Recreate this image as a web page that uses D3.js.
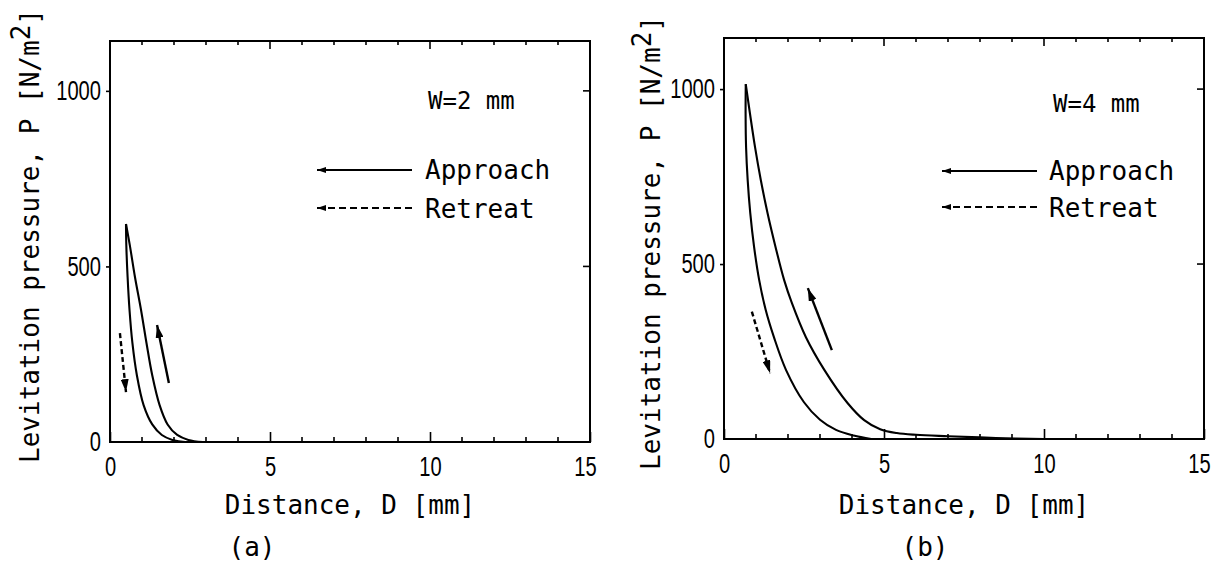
<!DOCTYPE html>
<html>
<head>
<meta charset="utf-8">
<script src="https://cdn.jsdelivr.net/npm/d3@7"></script>
<style>
  html, body { margin: 0; padding: 0; background: #fff; }
  svg { display: block; }
  .mono { font-family: "DejaVu Sans Mono", "Liberation Mono", monospace; fill: #000; }
  .tick text { font-family: "Liberation Sans", "DejaVu Sans", sans-serif; }
</style>
</head>
<body>
<svg id="chart" width="1219" height="565"></svg>
<script>
// ---------------- DATA ----------------
const xTicks = [0, 5, 10, 15];
const yTicks = [0, 500, 1000];
const xMinorTicks = [1,2,3,4,5,6,7,8,9,10,11,12,13,14];

// Panel (a): W = 2 mm
const approachD_W2 = [0.50, 0.62, 0.78, 0.97, 1.14, 1.32, 1.55, 1.80, 2.10, 2.45, 2.90];
const approachP_W2 = [621, 560, 470, 376, 282, 190, 105, 50, 20, 6, 0];
const retreatD_W2  = [0.50, 0.51, 0.55, 0.61, 0.70, 0.84, 1.05, 1.32, 1.62, 1.95, 2.35];
const retreatP_W2  = [621, 560, 470, 376, 282, 190, 105, 50, 20, 6, 0];

// Panel (b): W = 4 mm
const approachD_W4 = [0.68, 0.81, 0.97, 1.15, 1.36, 1.61, 1.88, 2.12, 2.56, 3.14, 3.86, 4.38, 4.88, 5.40, 6.00, 7.00, 8.50, 10.0];
const approachP_W4 = [1014, 931, 834, 740, 646, 549, 454, 389, 291, 197, 103, 54, 28, 17, 12, 8, 3, 0];
const retreatD_W4  = [0.68, 0.675, 0.69, 0.74, 0.82, 0.94, 1.10, 1.30, 1.56, 1.94, 2.50, 3.00, 3.50, 4.05, 4.60];
const retreatP_W4  = [1014, 931, 834, 740, 646, 549, 454, 370, 291, 197, 105, 55, 26, 10, 0];

// direction arrows [D0, P0, D1, P1]
const approachArrow_W2 = [1.84, 168, 1.47, 333];
const retreatArrow_W2  = [0.31, 310, 0.50, 142];
const approachArrow_W4 = [3.37, 254, 2.62, 431];
const retreatArrow_W4  = [0.87, 364, 1.44, 188];

const widthLabels = ["W=2 mm", "W=4 mm"];
const panelLabels = ["(a)", "(b)"];
const legendLabels = ["Approach", "Retreat"];
const xTitle = "Distance, D [mm]";

// ---------------- DRAW ----------------
const svg = d3.select("#chart");
const defs = svg.append("defs");
function marker(id, len, wid) {
  defs.append("marker").attr("id", id)
    .attr("viewBox", `0 0 ${len} ${wid}`)
    .attr("refX", len).attr("refY", wid / 2)
    .attr("markerWidth", len).attr("markerHeight", wid)
    .attr("markerUnits", "userSpaceOnUse")
    .attr("orient", "auto")
    .append("path").attr("d", `M0,0 L${len},${wid/2} L0,${wid} Z`).attr("fill", "#000");
}
marker("headBig", 13, 8);
marker("headSmall", 9, 6);

const panels = [
  { x0: 110, x1: 590, yb: 442, yt: 41, ymax: 1142,
    ad: approachD_W2, ap: approachP_W2, rd: retreatD_W2, rp: retreatP_W2,
    aArr: approachArrow_W2, rArr: retreatArrow_W2,
    wLabel: widthLabels[0], pLabel: panelLabels[0],
    legX: 317, legX2: 412, legTextX: 425, wX: 428, wY: 109, l1: 170, l2: 208,
    yTitleX: 39, yTitleY: 236, pLabelX: 252 },
  { x0: 724, x1: 1204, yb: 439, yt: 38, ymax: 1146,
    ad: approachD_W4, ap: approachP_W4, rd: retreatD_W4, rp: retreatP_W4,
    aArr: approachArrow_W4, rArr: retreatArrow_W4,
    wLabel: widthLabels[1], pLabel: panelLabels[1],
    legX: 942, legX2: 1037, legTextX: 1049, wX: 1053, wY: 112, l1: 171, l2: 207,
    yTitleX: 660, yTitleY: 243, pLabelX: 925 }
];

function styleTickText(sel) {
  sel.attr("font-size", 27).attr("fill", "#000")
    .attr("lengthAdjust", "spacingAndGlyphs")
    .attr("textLength", function() { return this.textContent.length * 11.2; });
}

panels.forEach(p => {
  const x = d3.scaleLinear().domain([0, 15]).range([p.x0, p.x1]);
  const y = d3.scaleLinear().domain([0, p.ymax]).range([p.yb, p.yt]);
  const g = svg.append("g");

  // frame
  g.append("rect").attr("x", p.x0).attr("y", p.yt)
    .attr("width", p.x1 - p.x0).attr("height", p.yb - p.yt)
    .attr("fill", "none").attr("stroke", "#000").attr("stroke-width", 2);

  // bottom axis (major labels)
  const bottom = g.append("g").attr("transform", `translate(0,${p.yb})`)
    .call(d3.axisBottom(x).tickValues(xTicks).tickSize(-10).tickPadding(15).tickFormat(d3.format("d")));
  bottom.select(".domain").remove();
  bottom.selectAll("line").attr("stroke", "#000").attr("stroke-width", 1.6);
  styleTickText(bottom.selectAll("text"));
  bottom.selectAll(".tick").filter(d => d === 15).select("text").attr("dx", -5);
  // minor bottom ticks
  g.selectAll(".mb").data(xMinorTicks.filter(v => v % 5 !== 0)).enter().append("line")
    .attr("x1", d => x(d)).attr("x2", d => x(d)).attr("y1", p.yb).attr("y2", p.yb - 5)
    .attr("stroke", "#000").attr("stroke-width", 1.6);
  // top ticks
  g.selectAll(".mt").data(xMinorTicks).enter().append("line")
    .attr("x1", d => x(d)).attr("x2", d => x(d)).attr("y1", p.yt).attr("y2", d => p.yt + (d % 5 === 0 ? 8 : 4))
    .attr("stroke", "#000").attr("stroke-width", 1.6);

  // left axis
  const left = g.append("g").attr("transform", `translate(${p.x0},0)`)
    .call(d3.axisLeft(y).tickValues(yTicks).tickSize(4).tickPadding(5).tickFormat(d3.format("d")));
  left.select(".domain").remove();
  left.selectAll("line").attr("stroke", "#000").attr("stroke-width", 1.6);
  left.selectAll(".tick").filter(d => d === 0).select("line").remove();
  styleTickText(left.selectAll("text"));
  // right ticks
  g.selectAll(".rt").data([500, 1000]).enter().append("line")
    .attr("x1", p.x1).attr("x2", p.x1 - 7).attr("y1", d => y(d)).attr("y2", d => y(d))
    .attr("stroke", "#000").attr("stroke-width", 1.6);

  // curves
  const line = d3.line().x(d => x(d[0])).y(d => y(d[1])).curve(d3.curveCatmullRom.alpha(0.5));
  const aPts = p.ad.map((d, i) => [d, p.ap[i]]);
  const rPts = p.rd.map((d, i) => [d, p.rp[i]]);
  [aPts, rPts].forEach(pts => {
    g.append("path").attr("d", line(pts)).attr("fill", "none")
      .attr("stroke", "#000").attr("stroke-width", 2.1);
  });

  // direction arrows
  g.append("line").attr("x1", x(p.aArr[0])).attr("y1", y(p.aArr[1]))
    .attr("x2", x(p.aArr[2])).attr("y2", y(p.aArr[3]))
    .attr("stroke", "#000").attr("stroke-width", 2.4).attr("marker-end", "url(#headBig)");
  g.append("line").attr("x1", x(p.rArr[0])).attr("y1", y(p.rArr[1]))
    .attr("x2", x(p.rArr[2])).attr("y2", y(p.rArr[3]))
    .attr("stroke", "#000").attr("stroke-width", 2.4).attr("stroke-dasharray", "5,3")
    .attr("marker-end", "url(#headBig)");

  // legend
  g.append("text").attr("class", "mono").attr("x", p.wX).attr("y", p.wY)
    .attr("font-size", 24).text(p.wLabel);
  g.append("line").attr("x1", p.legX2).attr("x2", p.legX).attr("y1", p.l1).attr("y2", p.l1)
    .attr("stroke", "#000").attr("stroke-width", 1.8).attr("marker-end", "url(#headSmall)");
  g.append("line").attr("x1", p.legX2).attr("x2", p.legX).attr("y1", p.l2).attr("y2", p.l2)
    .attr("stroke", "#000").attr("stroke-width", 1.8).attr("stroke-dasharray", "7,4")
    .attr("marker-end", "url(#headSmall)");
  g.append("text").attr("class", "mono").attr("x", p.legTextX).attr("y", p.l1 + 9)
    .attr("font-size", 26).text(legendLabels[0]);
  g.append("text").attr("class", "mono").attr("x", p.legTextX).attr("y", p.l2 + 10)
    .attr("font-size", 26).text(legendLabels[1]);

  // x title
  g.append("text").attr("class", "mono").attr("x", (p.x0 + p.x1) / 2).attr("y", 514)
    .attr("text-anchor", "middle").attr("font-size", 26).text(xTitle);
  // panel label
  g.append("text").attr("class", "mono").attr("x", p.pLabelX).attr("y", 556)
    .attr("text-anchor", "middle").attr("font-size", 26).text(p.pLabel);

  // y title
  const yt = g.append("text").attr("class", "mono")
    .attr("transform", `translate(${p.yTitleX},${p.yTitleY}) rotate(-90)`)
    .attr("text-anchor", "middle").attr("font-size", 26);
  yt.append("tspan").text("Levitation pressure, P [N/m");
  yt.append("tspan").attr("dy", -9).text("2");
  yt.append("tspan").attr("dy", 9).text("]");
});
</script>
</body>
</html>
